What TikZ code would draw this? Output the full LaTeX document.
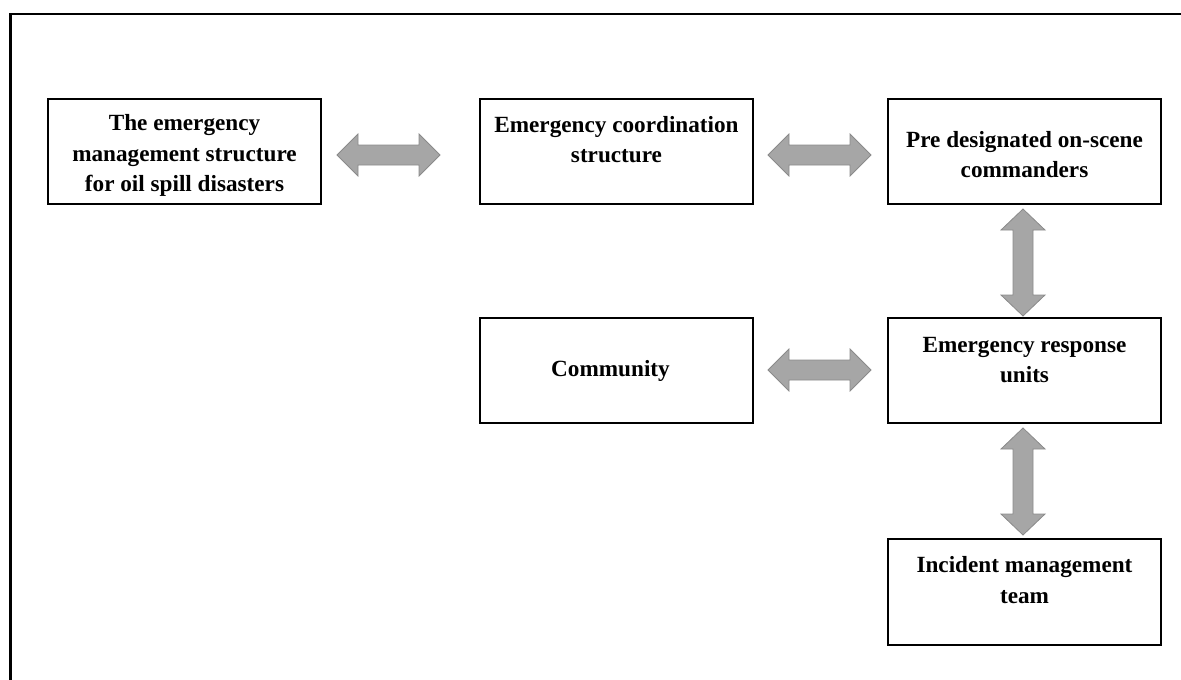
\documentclass[tikz,border=0pt]{standalone}
\usepackage{fontspec}
\setmainfont{Liberation Serif}
\usetikzlibrary{calc}

\definecolor{arrowfill}{RGB}{166,166,166}
\definecolor{arrowedge}{RGB}{138,138,138}

\tikzset{
  box/.style={draw, line width=1.6pt, minimum width=273.5pt, minimum height=105.5pt,
              inner sep=0pt, outer sep=0pt},
  lbl/.style={anchor=base, inner sep=0pt, font=\fontsize{23.2}{30.5}\selectfont\bfseries},
  dblarrow/.style={fill=arrowfill, draw=arrowedge, line width=0.8pt},
}

% horizontal two-headed block arrow between two tip points
\newcommand{\hdblarrow}[2]{%
  \filldraw[dblarrow] let \p1=(#1), \p2=(#2) in
    (\x1,\y1) -- (\x1+21pt,\y1+21pt) -- (\x1+21pt,\y1+10pt) -- (\x2-21pt,\y1+10pt)
    -- (\x2-21pt,\y1+21pt) -- (\x2,\y1) -- (\x2-21pt,\y1-21pt) -- (\x2-21pt,\y1-10pt)
    -- (\x1+21pt,\y1-10pt) -- (\x1+21pt,\y1-21pt) -- cycle;}

% vertical two-headed block arrow, #1 upper tip, #2 lower tip
\newcommand{\vdblarrow}[2]{%
  \filldraw[dblarrow] let \p1=(#1), \p2=(#2) in
    (\x1,\y1) -- (\x1+22pt,\y1-21pt) -- (\x1+10pt,\y1-21pt) -- (\x1+10pt,\y2+21pt)
    -- (\x1+22pt,\y2+21pt) -- (\x1,\y2) -- (\x1-22pt,\y2+21pt) -- (\x1-10pt,\y2+21pt)
    -- (\x1-10pt,\y1-21pt) -- (\x1-22pt,\y1-21pt) -- cycle;}

\begin{document}
\begin{tikzpicture}[x=1pt, y=-1pt]
  \useasboundingbox (0,0) rectangle (1181,680);
  \clip (0,0) rectangle (1181,680);

  % outer frame
  \draw[line width=2.6pt] (10.7,700) -- (10.7,13.8) -- (1200,13.8);

  % boxes
  \node[box] (b1) at (184.5,151.5) {};
  \node[box] (b2) at (616.5,151.5) {};
  \node[box] (b3) at (1024.5,151.5) {};
  \node[box] (b4) at (616.5,370.5) {};
  \node[box] (b5) at (1024.5,370.5) {};
  \node[box] (b6) at (1024.5,592) {};

  % box texts
  \node[lbl] (t1) at ($(b1.north)+(0,32)$)
    {\begin{tabular}[t]{@{}c@{}}The emergency\\management structure\\for oil spill disasters\end{tabular}};
  \node[lbl] (t2) at ($(b2.north)+(0,33.5)$)
    {\begin{tabular}[t]{@{}c@{}}Emergency coordination\\structure\end{tabular}};
  \node[lbl] (t3) at ($(b3.north)+(0,48.5)$)
    {\begin{tabular}[t]{@{}c@{}}Pre designated on-scene\\commanders\end{tabular}};
  \node[lbl] (t4) at ($(b4.north)+(-6,59)$) {Community};
  \node[lbl] (t5) at ($(b5.north)+(0,34.5)$)
    {\begin{tabular}[t]{@{}c@{}}Emergency response\\units\end{tabular}};
  \node[lbl] (t6) at ($(b6.north)+(0,33.5)$)
    {\begin{tabular}[t]{@{}c@{}}Incident management\\team\end{tabular}};

  % arrow end points
  \coordinate (a1s) at ($(b1.east)+(15.75,3.5)$);
  \coordinate (a1e) at ($(b2.west)+(-39.75,3.5)$);
  \coordinate (a2s) at ($(b2.east)+(14.75,3.5)$);
  \coordinate (a2e) at ($(b3.west)+(-16.75,3.5)$);
  \coordinate (a3s) at ($(b4.east)+(14.75,-0.5)$);
  \coordinate (a3e) at ($(b5.west)+(-16.75,-0.5)$);
  \coordinate (v1s) at ($(b3.south)+(-1.5,4.75)$);
  \coordinate (v1e) at ($(b5.north)+(-1.5,-1.75)$);
  \coordinate (v2s) at ($(b5.south)+(-1.5,4.75)$);
  \coordinate (v2e) at ($(b6.north)+(-1.5,-4.25)$);

  % connectors
  \hdblarrow{a1s}{a1e}
  \hdblarrow{a2s}{a2e}
  \hdblarrow{a3s}{a3e}
  \vdblarrow{v1s}{v1e}
  \vdblarrow{v2s}{v2e}
\end{tikzpicture}
\end{document}
